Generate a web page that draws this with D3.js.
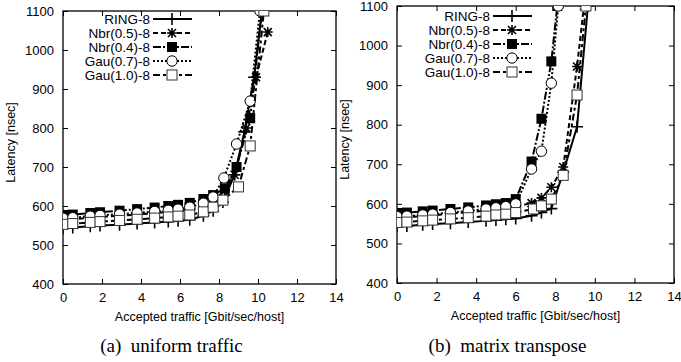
<!DOCTYPE html>
<html>
<head>
<meta charset="utf-8">
<script src="https://cdn.jsdelivr.net/npm/d3@7"></script>
<style>
  body { margin: 0; background: #fff; }
  svg text { font-family: "Liberation Sans", Arial, sans-serif; }
</style>
</head>
<body>
<div id="wrapper"></div>
<script>
// series names (legend order)
const seriesNames = ["RING-8", "Nbr(0.5)-8", "Nbr(0.4)-8", "Gau(0.7)-8", "Gau(1.0)-8"]
const xTicks = [0, 2, 4, 6, 8, 10, 12, 14]
const yTicks = [400, 500, 600, 700, 800, 900, 1000, 1100]

// (a) uniform traffic
const uniRingX = [0, 0.5, 1.4, 1.9, 2.9, 3.8, 4.7, 5.4, 5.9, 6.5, 7.2, 7.7, 8.2, 8.8, 9.3, 9.8, 10.2]
const uniRingY = [543, 545, 548, 550, 552, 555, 558, 560, 562, 565, 575, 588, 610, 680, 790, 930, 1100]
const uniNbr05X = [0, 0.5, 1.4, 1.9, 2.9, 3.8, 4.7, 5.4, 5.9, 6.5, 7.2, 7.7, 8.3, 8.8, 9.4, 9.9, 10.5]
const uniNbr05Y = [565, 566, 570, 572, 575, 578, 582, 585, 587, 590, 598, 612, 640, 680, 800, 930, 1046]
const uniNbr04X = [0, 0.5, 1.4, 1.9, 2.9, 3.8, 4.7, 5.4, 5.9, 6.5, 7.2, 7.7, 8.3, 8.9, 9.6, 10.2]
const uniNbr04Y = [577, 578, 582, 584, 588, 592, 596, 600, 603, 608, 618, 628, 645, 700, 825, 1100]
const uniGau07X = [0, 0.5, 1.4, 1.9, 2.9, 3.8, 4.7, 5.4, 5.9, 6.5, 7.2, 7.7, 8.25, 8.9, 9.6, 10.1]
const uniGau07Y = [569, 570, 574, 576, 579, 582, 586, 589, 592, 597, 607, 623, 672, 759, 869, 1100]
const uniGau10X = [0, 0.5, 1.4, 1.9, 2.9, 3.8, 4.7, 5.4, 5.9, 6.5, 7.2, 7.7, 8.2, 9.0, 9.6, 10.3]
const uniGau10Y = [553, 555, 558, 560, 563, 566, 569, 572, 574, 577, 585, 597, 615, 649, 754, 1100]

// (b) matrix transpose
const trRingX = [0, 0.5, 1.3, 1.8, 2.7, 3.6, 4.5, 5.0, 5.5, 6.0, 6.8, 7.3, 7.8, 8.4, 9.1, 9.65]
const trRingY = [543, 544, 547, 549, 551, 554, 557, 559, 561, 563, 570, 578, 588, 680, 795, 1100]
const trNbr05X = [0, 0.5, 1.3, 1.8, 2.7, 3.6, 4.5, 5.0, 5.5, 6.0, 6.8, 7.3, 7.8, 8.4, 9.1, 9.45]
const trNbr05Y = [565, 566, 569, 571, 575, 579, 583, 586, 589, 593, 602, 615, 642, 693, 947, 1100]
const trNbr04X = [0, 0.5, 1.3, 1.8, 2.7, 3.6, 4.5, 5.0, 5.5, 6.0, 6.8, 7.3, 7.8, 8.1]
const trNbr04Y = [577, 578, 581, 583, 587, 591, 596, 599, 602, 612, 707, 815, 960, 1100]
const trGau07X = [0, 0.5, 1.3, 1.8, 2.7, 3.6, 4.5, 5.0, 5.5, 6.0, 6.8, 7.3, 7.8, 8.15]
const trGau07Y = [568, 569, 572, 574, 578, 582, 587, 590, 593, 600, 688, 733, 905, 1100]
const trGau10X = [0, 0.5, 1.3, 1.8, 2.7, 3.6, 4.5, 5.0, 5.5, 6.0, 6.9, 7.3, 7.8, 8.4, 9.1, 9.55]
const trGau10Y = [553, 554, 557, 559, 562, 565, 569, 572, 574, 578, 587, 595, 612, 672, 875, 1100]

// line dash per series
const dashes = [null, "5,3", "8,2,2,2", "2,2", "7,3,3,3"]
const markers = ["plus", "star", "fsquare", "circle", "square"]

const svg = d3.select("#wrapper").append("svg")
    .attr("width", 681).attr("height", 362)

function drawMarker(g, type, x, y) {
    if (type == "plus") {
        g.append("path").attr("d", `M${x-6},${y}H${x+6}M${x},${y-6}V${y+6}`)
            .attr("stroke", "#000").attr("stroke-width", 1.6)
    } else if (type == "star") {
        g.append("path").attr("d", `M${x-5},${y}H${x+5}M${x},${y-5}V${y+5}M${x-4},${y-4}L${x+4},${y+4}M${x-4},${y+4}L${x+4},${y-4}`)
            .attr("stroke", "#000").attr("stroke-width", 1.6)
    } else if (type == "fsquare") {
        g.append("rect").attr("x", x-5).attr("y", y-5).attr("width", 10).attr("height", 10)
            .attr("fill", "#000")
    } else if (type == "circle") {
        g.append("circle").attr("cx", x).attr("cy", y).attr("r", 5.2)
            .attr("fill", "#fff").attr("stroke", "#000").attr("stroke-width", 1)
    } else {
        g.append("rect").attr("x", x-5).attr("y", y-5).attr("width", 10).attr("height", 10)
            .attr("fill", "#fff").attr("stroke", "#333").attr("stroke-width", 1)
    }
}

function drawPanel(p) {
    const xScale = d3.scaleLinear().domain([0, 14]).range([p.left, p.right])
    const yScale = d3.scaleLinear().domain([400, 1100]).range([p.bottom, p.top])
    const g = svg.append("g")

    const clipId = "clip" + p.id
    g.append("clipPath").attr("id", clipId).append("rect")
        .attr("x", p.left).attr("y", p.top)
        .attr("width", p.right - p.left).attr("height", p.bottom - p.top)

    // ticks on all sides, pointing inward
    const axisStyle = a => a.call(s => s.select(".domain").remove())
        .call(s => s.selectAll("text").attr("font-size", 13).attr("fill", "#000"))
        .call(s => s.selectAll("line").attr("stroke", "#000"))
    g.append("g").attr("transform", `translate(0,${p.bottom})`)
        .call(d3.axisBottom(xScale).tickValues(xTicks).tickSizeInner(-5).tickPadding(9).tickFormat(d3.format("d")))
        .call(axisStyle)
    g.append("g").attr("transform", `translate(0,${p.top})`)
        .call(d3.axisTop(xScale).tickValues(xTicks).tickSizeInner(-5).tickFormat(""))
        .call(axisStyle)
    g.append("g").attr("transform", `translate(${p.left},0)`)
        .call(d3.axisLeft(yScale).tickValues(yTicks).tickSizeInner(-5).tickPadding(9).tickFormat(d3.format("d")))
        .call(axisStyle)
    g.append("g").attr("transform", `translate(${p.right},0)`)
        .call(d3.axisRight(yScale).tickValues(yTicks).tickSizeInner(-5).tickFormat(""))
        .call(axisStyle)
    g.append("rect").attr("x", p.left).attr("y", p.top)
        .attr("width", p.right - p.left).attr("height", p.bottom - p.top)
        .attr("fill", "none").attr("stroke", "#000").attr("stroke-width", 1.3)

    const plot = g.append("g").attr("clip-path", `url(#${clipId})`)
    const line = d3.line().x(d => xScale(d[0])).y(d => yScale(d[1]))
    p.series.forEach((s, i) => {
        const pts = s.x.map((v, j) => [v, s.y[j]])
        plot.append("path").attr("d", line(pts))
            .attr("fill", "none").attr("stroke", "#000").attr("stroke-width", 2)
            .attr("stroke-dasharray", dashes[i])
        pts.forEach(d => drawMarker(plot, markers[i], xScale(d[0]), yScale(d[1])))
    })

    // legend
    const lg = g.append("g")
    seriesNames.forEach((name, i) => {
        const y = p.legY + i * 14
        lg.append("text").attr("x", p.legX).attr("y", y + 5)
            .attr("text-anchor", "end").attr("font-size", 13.5).text(name)
        lg.append("line").attr("x1", p.legX + 3).attr("x2", p.legX + 42)
            .attr("y1", y).attr("y2", y)
            .attr("stroke", "#000").attr("stroke-width", 2)
            .attr("stroke-dasharray", dashes[i])
        drawMarker(lg, markers[i], p.legX + 22, y)
    })

    // axis titles
    g.append("text").attr("x", (p.left + p.right) / 2).attr("y", p.bottom + 37)
        .attr("text-anchor", "middle").attr("font-size", 12.5)
        .text("Accepted traffic [Gbit/sec/host]")
    g.append("text")
        .attr("transform", `translate(${p.left - 48},${(p.top + p.bottom) / 2 - 5}) rotate(-90)`)
        .attr("text-anchor", "middle").attr("font-size", 12.5)
        .text("Latency [nsec]")
    g.append("text").attr("x", (p.left + p.right) / 2 - 28).attr("y", 352)
        .attr("text-anchor", "middle").attr("font-size", 19)
        .style("font-family", "'Liberation Serif', 'Times New Roman', serif")
        .attr("xml:space", "preserve")
        .text(p.caption)
}

drawPanel({
    id: "a", left: 63, right: 336, top: 11, bottom: 284,
    legX: 150, legY: 19, caption: "(a)  uniform traffic",
    series: [
        { x: uniRingX, y: uniRingY },
        { x: uniNbr05X, y: uniNbr05Y },
        { x: uniNbr04X, y: uniNbr04Y },
        { x: uniGau07X, y: uniGau07Y },
        { x: uniGau10X, y: uniGau10Y }
    ]
})
drawPanel({
    id: "b", left: 397, right: 674, top: 6, bottom: 283,
    legX: 490, legY: 16, caption: "(b)  matrix transpose",
    series: [
        { x: trRingX, y: trRingY },
        { x: trNbr05X, y: trNbr05Y },
        { x: trNbr04X, y: trNbr04Y },
        { x: trGau07X, y: trGau07Y },
        { x: trGau10X, y: trGau10Y }
    ]
})
</script>
</body>
</html>
